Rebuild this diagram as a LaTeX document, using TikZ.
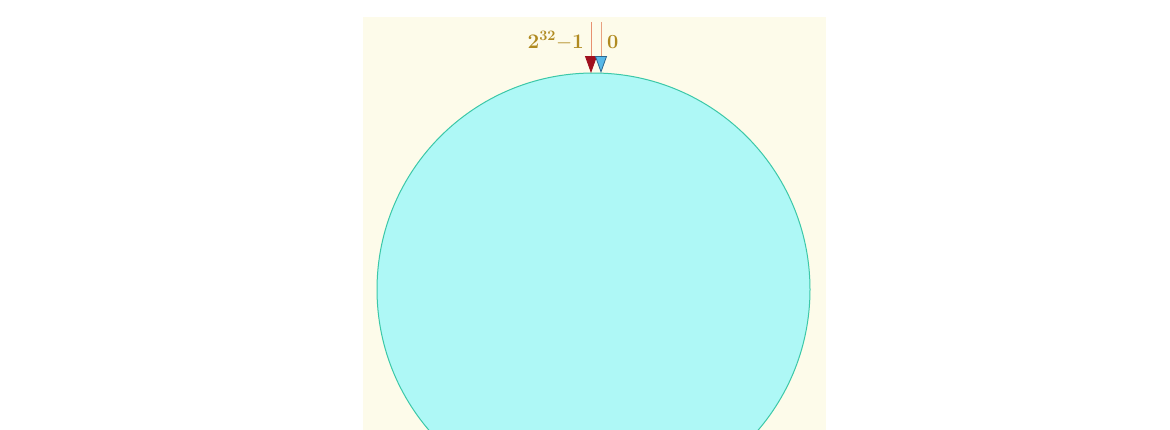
\documentclass[tikz,border=0pt]{standalone}
\usetikzlibrary{arrows.meta}
\definecolor{panel}{HTML}{FDFBEA}
\definecolor{ringfill}{HTML}{AEF8F6}
\definecolor{ringline}{HTML}{3CC8A8}
\definecolor{lbl}{HTML}{B08A20}
\definecolor{redhead}{HTML}{A0101E}
\definecolor{bluehead}{HTML}{58B8E8}
\definecolor{blueedge}{HTML}{2C6890}
\definecolor{redshaft}{HTML}{E89070}
\definecolor{blueshaft}{HTML}{E8A080}
\tikzset{
  lab/.style={text=lbl, font=\fontsize{20}{24}\selectfont\bfseries, inner sep=0pt},
  ptr/.style={line width=0.8pt},
}
\begin{document}
\begin{tikzpicture}[x=1pt,y=-1pt]
\useasboundingbox (0,0) rectangle (1170,429);
\fill[white] (0,0) rectangle (1170,429);
\clip (0,0) rectangle (1170,429);
\fill[panel] (363,17) rectangle (826,440);
\node[circle, draw=ringline, line width=1pt, fill=ringfill, minimum size=433pt, inner sep=0pt] (ring) at (593.5,289.5) {};
\coordinate (rs) at (591,22);
\coordinate (rt) at (591,73);
\coordinate (bs) at (601,22);
\coordinate (bt) at (601,73);
\draw[ptr, draw=redshaft, -{Triangle[width=12pt,length=17pt,fill=redhead,color=redhead]}] (rs) -- (rt);
\draw[ptr, draw=blueshaft, -{Triangle[width=12pt,length=17pt,fill=bluehead,color=blueedge]}] (bs) -- (bt);
\node[lab, anchor=base east] (lmax) at (584,48) {$\mathbf{2^{32}{-}1}$};
\node[lab, anchor=base west] (lzero) at (607,48) {0};
\end{tikzpicture}
\end{document}
